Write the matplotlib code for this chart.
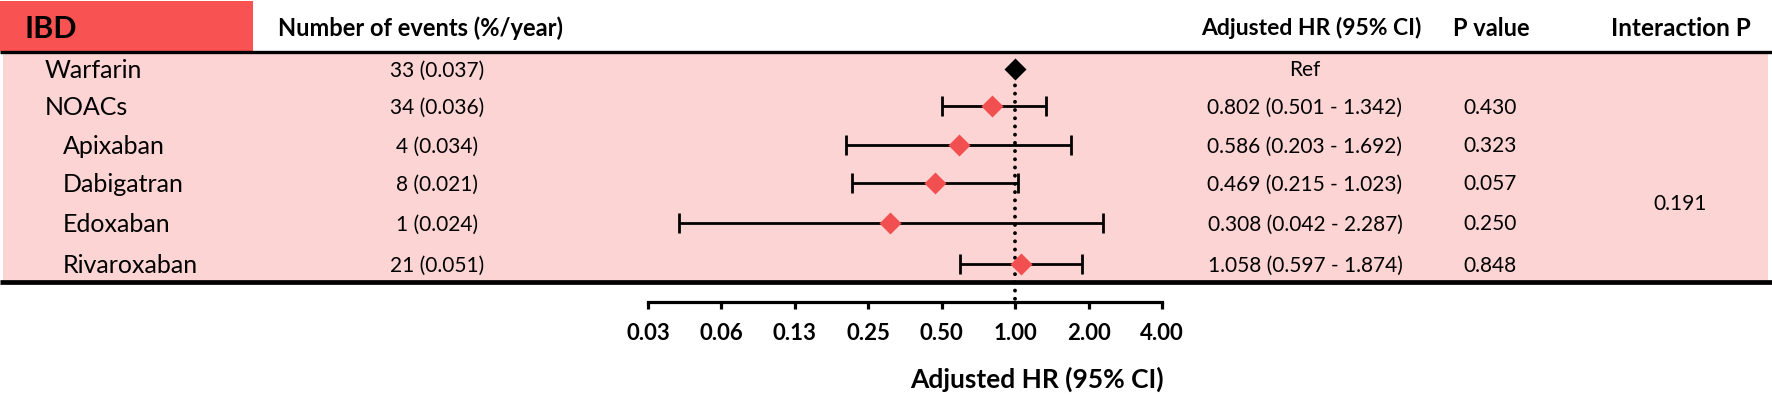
import numpy as np
import matplotlib
matplotlib.use('Agg')
import matplotlib.pyplot as plt
from matplotlib.patches import Rectangle

# data
drugs = ['Warfarin', 'NOACs', 'Apixaban', 'Dabigatran', 'Edoxaban', 'Rivaroxaban']
events = ['33 (0.037)', '34 (0.036)', '4 (0.034)', '8 (0.021)', '1 (0.024)', '21 (0.051)']
hr = [1.0, 0.802, 0.586, 0.469, 0.308, 1.058]
hr_low = [1.0, 0.501, 0.203, 0.215, 0.042, 0.597]
hr_high = [1.0, 1.342, 1.692, 1.023, 2.287, 1.874]
p_values = ['', '0.430', '0.323', '0.057', '0.250', '0.848']
interaction_p = '0.191'
tick_values = [2.0 ** k for k in range(-5, 3)]
tick_labels = ['0.03', '0.06', '0.13', '0.25', '0.50', '1.00', '2.00', '4.00']

plt.rcParams['font.family'] = ['Lato', 'DejaVu Sans']

W, H = 1772, 395
red = '#f85252'
pink = '#fdd4d4'

fig = plt.figure(figsize=(W / 100, H / 100), dpi=100)

# background axes in pixel coords (y down)
bg = fig.add_axes([0, 0, 1, 1])
bg.set_xlim(0, W)
bg.set_ylim(H, 0)
bg.axis('off')

# vertical position of each row, pixels from the top
row_px = np.array([69, 106, 145, 183, 223, 264])

bg.add_patch(Rectangle((0, 1), 253, 50, color=red, lw=0))
bg.add_patch(Rectangle((3, 52), W - 7, 229, color=pink, lw=0))
bg.plot([0, W], [51.5, 51.5], color='black', lw=2.4, solid_capstyle='butt')
bg.plot([0, W], [282, 282], color='black', lw=3.4, solid_capstyle='butt')

def txt(x, y, s, size, bold=False, ha='center'):
    # y is the vertical centre of capitals, in pixels
    em = size * 100 / 72
    bg.text(x, y + 0.36 * em, s, fontsize=size, ha=ha, va='baseline',
            fontweight='bold' if bold else 'normal', color='black')

# header
txt(25, 27, 'IBD', 22, bold=True, ha='left')
txt(421, 27, 'Number of events (%/year)', 17, bold=True)
txt(1311, 27, 'Adjusted HR (95% CI)', 16.5, bold=True)
txt(1491, 27, 'P value', 17, bold=True)
txt(1681, 27, 'Interaction P', 17.5, bold=True)

# table rows
for i, name in enumerate(drugs):
    x_name = 45 if i < 2 else 63
    txt(x_name, row_px[i], name, 18, ha='left')
    txt(437, row_px[i], events[i], 15)
    if i == 0:
        hr_txt = 'Ref'
    else:
        hr_txt = '%.3f (%.3f - %.3f)' % (hr[i], hr_low[i], hr_high[i])
    txt(1305, row_px[i], hr_txt, 15)
    if p_values[i]:
        txt(1490, row_px[i], p_values[i], 15)
txt(1680, (row_px[3] + row_px[4]) / 2, interaction_p, 15)

# forest plot axes, y in pixels from the top
x_left, x_right = 648, 1162
y_top, y_bottom = 52, 302
ax = fig.add_axes([x_left / W, (H - y_bottom) / H, (x_right - x_left) / W, (y_bottom - y_top) / H])
ax.patch.set_alpha(0)
ax.set_xscale('log', base=2)
ax.set_xlim(tick_values[0], tick_values[-1])
ax.set_ylim(y_bottom, y_top)

ax.plot([1, 1], [row_px[0], y_bottom], color='black', lw=2.8,
        linestyle=(0, (0.01, 2.1)), dash_capstyle='round', clip_on=False, zorder=2)

hr_a = np.array(hr[1:])
lo_a = np.array(hr_low[1:])
hi_a = np.array(hr_high[1:])
ax.errorbar(hr_a, row_px[1:], xerr=[hr_a - lo_a, hi_a - hr_a], fmt='none', ecolor='black',
            elinewidth=2.0, capsize=7.5, capthick=2.0, zorder=3, clip_on=False)
ax.plot(hr[1:], row_px[1:], 'D', color='#f25050', ms=11, mec='none', zorder=4, clip_on=False)
ax.plot(hr[:1], row_px[:1], 'D', color='black', ms=11, mec='none', zorder=4, clip_on=False)

for s in ['top', 'left', 'right']:
    ax.spines[s].set_visible(False)
ax.spines['bottom'].set_linewidth(2.3)
ax.set_yticks([])
ax.set_xticks(tick_values)
ax.set_xticklabels(tick_labels, fontsize=16, fontweight='bold')
ax.xaxis.set_minor_locator(matplotlib.ticker.NullLocator())
ax.tick_params(axis='x', direction='out', length=5, width=2.3, pad=10)

txt(1164, 378, 'Adjusted HR (95% CI)', 19, bold=True, ha='right')

fig.savefig('out.png', dpi=100)
